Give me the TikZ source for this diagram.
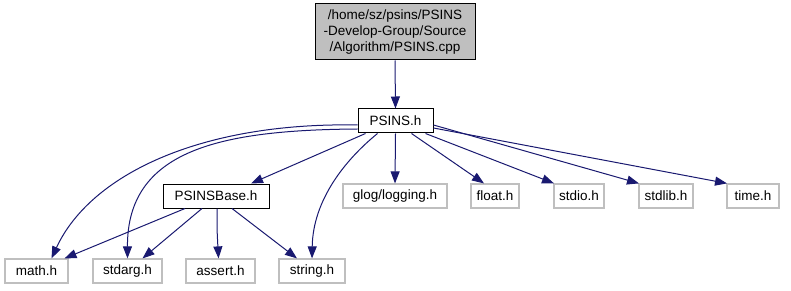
\documentclass[tikz,border=0pt]{standalone}
\usepackage{fontspec}
\setmainfont{Liberation Sans}
\usetikzlibrary{arrows.meta}
\definecolor{edgeblue}{HTML}{191970}
\definecolor{boxgray}{HTML}{BFBFBF}
\begin{document}
\begin{tikzpicture}[x=1pt,y=-1pt,
  every node/.style={font=\fontsize{13.5}{16}\selectfont, inner sep=0pt, align=center},
  mainbox/.style={draw=black, line width=1pt, fill=white, minimum height=24pt},
  rootbox/.style={draw=black, line width=1pt, fill=boxgray, minimum width=160pt, minimum height=56pt},
  extbox/.style={draw=boxgray, line width=1.2pt, fill=white, minimum height=24pt},
  dep/.style={draw=edgeblue, line width=1pt, -{Triangle[length=12pt,width=9pt]}}]
\useasboundingbox (0,0) rectangle (791,291);

% source file and its direct header
\node[rootbox] (root) at (395,32) {/home/sz/psins/PSINS\\-Develop-Group/Source\\/Algorithm/PSINS.cpp};
\node[mainbox, minimum width=75pt] (psins) at (395.5,121) {PSINS.h};

% second row
\node[mainbox, minimum width=106pt] (base) at (216,196) {PSINSBase.h};
\node[extbox, minimum width=104pt] (glog) at (395,196) {glog/logging.h};
\node[extbox, minimum width=48pt] (float) at (495,196) {float.h};
\node[extbox, minimum width=50pt] (stdio) at (579,196) {stdio.h};
\node[extbox, minimum width=54pt] (stdlib) at (666,196) {stdlib.h};
\node[extbox, minimum width=52pt] (time) at (753,196) {time.h};

% third row
\node[extbox, minimum width=63pt] (math) at (36.5,271) {math.h};
\node[extbox, minimum width=69pt] (stdarg) at (127.5,271) {stdarg.h};
\node[extbox, minimum width=69pt] (assert) at (220.5,271) {assert.h};
\node[extbox, minimum width=66pt] (string) at (312,271) {string.h};

% include edges
\draw[dep] (root.south) -- (psins.north);
\draw[dep] ([yshift=-4pt]psins.west) .. controls (200,122) and (90,175) .. ([xshift=15pt]math.north);
\draw[dep] ([yshift=-8pt]psins.west) .. controls (220,130) and (127,150) .. (stdarg.north);
\draw[dep] ([xshift=8pt]psins.south west) -- ([xshift=35pt]base.north);
\draw[dep] ([xshift=-18pt]psins.south) .. controls (345,160) and (313,200) .. (string.north);
\draw[dep] (psins.south) -- (glog.north);
\draw[dep] ([xshift=16pt]psins.south) -- ([xshift=-11pt]float.north);
\draw[dep] ([xshift=-8pt]psins.south east) -- ([xshift=-25pt]stdio.north);
\draw[dep] ([yshift=-4pt]psins.east) -- ([xshift=-27pt]stdlib.north);
\draw[dep] ([yshift=-7pt]psins.east) -- ([xshift=-26pt]time.north);

\draw[dep] ([xshift=-31pt]base.south) -- ([xshift=28pt]math.north);
\draw[dep] ([xshift=-14pt]base.south) -- ([xshift=15pt]stdarg.north);
\draw[dep] ([xshift=1pt]base.south) .. controls (217,230) .. ([xshift=-2pt]assert.north);
\draw[dep] ([xshift=16pt]base.south) -- ([xshift=-15pt]string.north);
\end{tikzpicture}
\end{document}
